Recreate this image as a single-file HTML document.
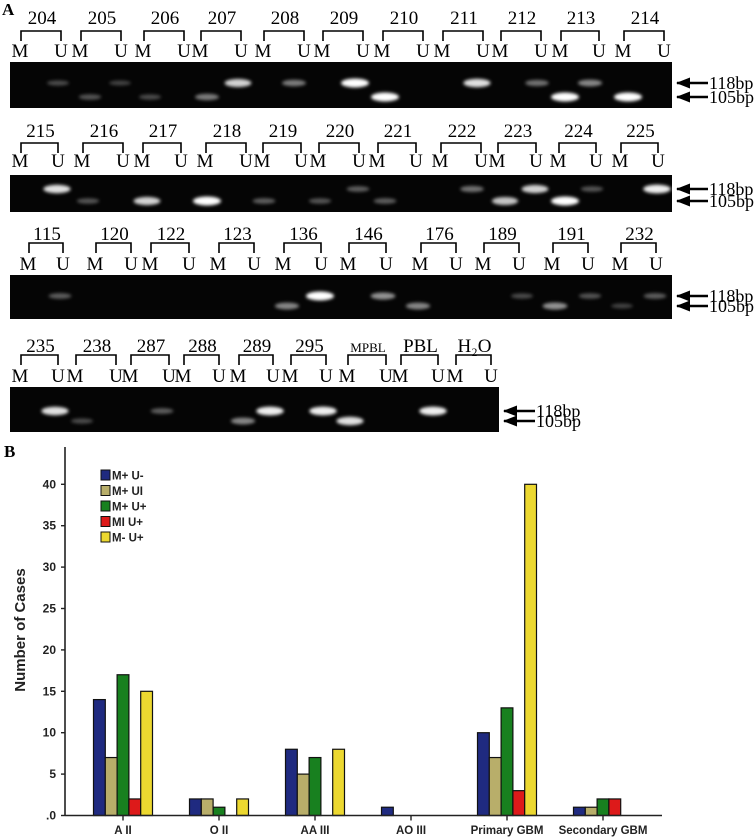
<!DOCTYPE html>
<html><head><meta charset="utf-8"><style>
html,body{margin:0;padding:0;background:#fff;}
svg{display:block;}
.serif{font-family:"Liberation Serif",serif;}
.sans{font-family:"Liberation Sans",sans-serif;}
</style></head><body>
<svg id="fig" width="756" height="840" viewBox="0 0 756 840">
<defs>
<filter id="blur" x="-50%" y="-100%" width="200%" height="300%"><feGaussianBlur stdDeviation="1.6"/></filter>
<marker id="ah" markerUnits="userSpaceOnUse" markerWidth="14" markerHeight="11" refX="13" refY="5.5" orient="auto"><path d="M0,0 L14,5.5 L0,11 z" fill="#000"/></marker>
</defs>
<text x="2" y="15" class="serif" font-size="17" font-weight="bold">A</text>
<text x="4" y="457" class="serif" font-size="17" font-weight="bold">B</text>
<g id="gels"></g>
<g id="chart"></g>
</svg>
<script>
const NS="http://www.w3.org/2000/svg";
function mk(tag,attrs,parent){const e=document.createElementNS(NS,tag);for(const k in attrs)e.setAttribute(k,attrs[k]);parent.appendChild(e);return e;}

// ---------- Gel panel ----------
const gelRows=[
 {top:62,bot:108,right:672,numY:24,brT:31,brB:41,muY:57,y118:83,y105:97,
  samples:[["204",20,60],["205",80,120],["206",143,183],["207",200,240],["208",263,303],["209",322,362],["210",382,422],["211",442,482],["212",500,540],["213",560,598],["214",623,663]],
  bands:[[58,0,0.25],[90,1,0.3],[120,0,0.2],[150,1,0.25],[207,1,0.5],[238,0,0.85],[294,0,0.5],[355,0,1],[385,1,1],[477,0,0.9],[537,0,0.45],[565,1,1],[590,0,0.55],[628,1,1]]},
 {top:175,bot:212,right:672,numY:137,brT:143,brB:153,muY:167,y118:189,y105:201,
  samples:[["215",20,57],["216",82,122],["217",142,180],["218",205,245],["219",262,300],["220",318,358],["221",377,415],["222",440,480],["223",497,535],["224",558,595],["225",620,657]],
  bands:[[57,0,0.9],[88,1,0.3],[147,1,0.85],[207,1,1],[264,1,0.35],[320,1,0.3],[358,0,0.35],[385,1,0.35],[472,0,0.45],[505,1,0.8],[535,0,0.85],[565,1,1],[592,0,0.3],[657,0,0.95]]},
 {top:275,bot:319,right:672,numY:240,brT:243,brB:253,muY:270,y118:296,y105:306,
  samples:[["115",28,62],["120",95,130],["122",150,188],["123",218,253],["136",283,320],["146",348,385],["176",420,455],["189",483,518],["191",552,587],["232",620,655]],
  bands:[[60,0,0.35],[287,1,0.55],[320,0,1],[383,0,0.6],[418,1,0.55],[522,0,0.25],[555,1,0.6],[590,0,0.3],[622,1,0.2],[655,0,0.35]]},
 {top:387,bot:432,right:499,numY:352,brT:355,brB:365,muY:382,y118:411,y105:421,
  samples:[["235",20,57],["238",75,115],["287",130,168],["288",183,218],["289",238,272],["295",290,325],["MPBL",347,385],["PBL",400,437],["H\u2082O",455,490]],
  bands:[[55,0,0.9],[82,1,0.25],[162,0,0.35],[243,1,0.55],[270,0,0.95],[323,0,0.95],[350,1,0.9],[433,0,0.95]]}
];
const G=document.getElementById('gels');
gelRows.forEach((r,ri)=>{
  const bg=mk('rect',{x:10,y:r.top,width:r.right-10,height:r.bot-r.top,fill:'#050505'},G);
  
  
  r.samples.forEach(s=>{
    const [lab,mx,ux]=s;
    const small=lab.length>3;
    const t=mk('text',{x:(mx+ux)/2+2,y:r.numY,'text-anchor':'middle','font-size':small?13:19,class:'serif'},G);t.textContent=lab;
    
    
    const br=mk('path',{d:`M${mx+1},${r.brB} V${r.brT} H${ux+1} V${r.brB}`,fill:'none',stroke:'#000','stroke-width':1.6},G);
    
    
    const m=mk('text',{x:mx,y:r.muY,'text-anchor':'middle','font-size':19,class:'serif'},G);m.textContent='M';
    
    
    const u=mk('text',{x:ux+1,y:r.muY,'text-anchor':'middle','font-size':19,class:'serif'},G);u.textContent='U';
    
    
  });
  r.bands.forEach(b=>{
    const [x,isM,inten]=b;
    const y=isM?r.y105:r.y118;
    const g=Math.round(120+135*inten);
    const e=mk('ellipse',{cx:x,cy:y,rx:10+4*inten,ry:2+2.5*inten,fill:`rgb(${g},${g},${g})`,opacity:0.3+0.7*inten,filter:'url(#blur)'},G);
    
    
  });
  const ax=r.right+4;
  [[r.y118,'118bp'],[r.y105,'105bp']].forEach(a=>{
    const l=mk('line',{x1:ax+32,y1:a[0],x2:ax+1,y2:a[0],stroke:'#000','stroke-width':2.5,'marker-end':'url(#ah)'},G);
    
    
    const t=mk('text',{x:ax+33,y:a[0]+6,'font-size':18,class:'serif'},G);t.textContent=a[1];
    
    
  });
});

// ---------- Bar chart ----------
const categories=["A II","O II","AA III","AO III","Primary GBM","Secondary GBM"];
const seriesNames=["M+ U-","M+ UI","M+ U+","MI U+","M- U+"];
const seriesColors=["#1f2a80","#b8ae6a","#18801f","#dd1a1a","#ecd830"];
const valsMplusUminus=[14,2,8,1,10,1];
const valsMplusUI=[7,2,5,0,7,1];
const valsMplusUplus=[17,1,7,0,13,2];
const valsMIUplus=[2,0,0,0,3,2];
const valsMminusUplus=[15,2,8,0,40,0];
const series=[valsMplusUminus,valsMplusUI,valsMplusUplus,valsMIUplus,valsMminusUplus];
const yTicks=[0,5,10,15,20,25,30,35,40];
const yTickLabels=[".0","5","10","15","20","25","30","35","40"];

const C=document.getElementById('chart');
const x0=65,yBase=815.5,pxPerUnit=8.28,catStart=123,catStep=96,barW=11.8;
const yScale=v=>yBase-v*pxPerUnit;
const xCenter=i=>catStart+i*catStep;

series.forEach((vals,si)=>{
  vals.forEach((v,ci)=>{
    if(v<=0)return;
    const x=xCenter(ci)-2.5*barW+si*barW;
    const r=mk('rect',{x:x,y:yScale(v),width:barW,height:yBase-yScale(v),fill:seriesColors[si],stroke:'#111','stroke-width':1.2},C);
    
    
  });
});
const yAxis=mk('line',{x1:x0,y1:447,x2:x0,y2:yBase,stroke:'#222','stroke-width':1.6},C);


const xAxis=mk('line',{x1:x0,y1:yBase,x2:662,y2:yBase,stroke:'#222','stroke-width':1.6},C);


yTicks.forEach((v,i)=>{
  const tk=mk('line',{x1:x0-4,y1:yScale(v),x2:x0,y2:yScale(v),stroke:'#222','stroke-width':1.4},C);
  
  
  const t=mk('text',{x:x0-9,y:yScale(v)+4,'text-anchor':'end','font-size':12,'font-weight':'bold',class:'sans',fill:'#222'},C);t.textContent=yTickLabels[i];
  
  
});
categories.forEach((c,i)=>{
  const tk=mk('line',{x1:xCenter(i),y1:yBase,x2:xCenter(i),y2:yBase+5,stroke:'#222','stroke-width':1.4},C);
  
  
  const t=mk('text',{x:xCenter(i),y:834,'text-anchor':'middle','font-size':11.5,'font-weight':'bold',class:'sans',fill:'#222'},C);t.textContent=c;
  
  
});
const yt=mk('text',{x:0,y:0,transform:'translate(25,630) rotate(-90)','text-anchor':'middle','font-size':15,'font-weight':'bold',class:'sans',fill:'#222'},C);yt.textContent='Number of Cases';


seriesNames.forEach((n,i)=>{
  const y=470+i*15.5;
  const sw=mk('rect',{x:101,y:y,width:9,height:10,fill:seriesColors[i],stroke:'#111','stroke-width':1},C);
  
  
  const t=mk('text',{x:112,y:y+9.5,'font-size':11.5,'font-weight':'bold',class:'sans',fill:'#222'},C);t.textContent=n;
  
  
});
</script>
</body></html>
